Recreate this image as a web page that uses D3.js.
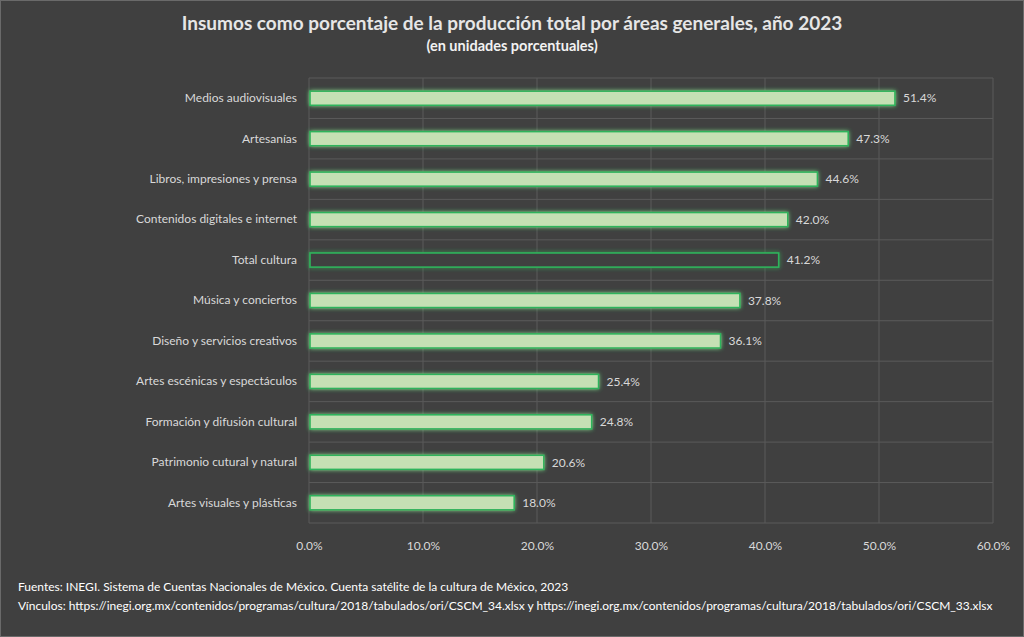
<!DOCTYPE html>
<html><head><meta charset="utf-8">
<script src="https://cdnjs.cloudflare.com/ajax/libs/d3/7.8.5/d3.min.js"></script>
<style>body{margin:0;background:#404040;}svg{display:block;}</style>
</head><body>
<script>
const categories = ["Medios audiovisuales","Artesanías","Libros, impresiones y prensa","Contenidos digitales e internet","Total cultura","Música y conciertos","Diseño y servicios creativos","Artes escénicas y espectáculos","Formación y difusión cultural","Patrimonio cutural y natural","Artes visuales y plásticas"];
const values = [51.4,47.3,44.6,42.0,41.2,37.8,36.1,25.4,24.8,20.6,18.0];
const xTicks = [0,10,20,30,40,50,60];
const title = "Insumos como porcentaje de la producción total por áreas generales, año 2023";
const subtitle = "(en unidades porcentuales)";
const footer = ["Fuentes: INEGI. Sistema de Cuentas Nacionales de México. Cuenta satélite de la cultura de México, 2023",
"Vínculos: https://inegi.org.mx/contenidos/programas/cultura/2018/tabulados/ori/CSCM_34.xlsx y https://inegi.org.mx/contenidos/programas/cultura/2018/tabulados/ori/CSCM_33.xlsx"];

const W=1024,H=637;
const font="Lato, 'Open Sans', sans-serif";
const svg=d3.select("body").append("svg").attr("width",W).attr("height",H);
svg.append("rect").attr("x",0.5).attr("y",0.5).attr("width",W-1).attr("height",H-1).attr("fill","#404040").attr("stroke","#6a6a6a");
const defs=svg.append("defs");
const f=defs.append("filter").attr("id","glow").attr("x","-10%").attr("y","-60%").attr("width","120%").attr("height","220%");
f.append("feGaussianBlur").attr("in","SourceGraphic").attr("stdDeviation",2).attr("result","b");
const m=f.append("feMerge");m.append("feMergeNode").attr("in","b");m.append("feMergeNode").attr("in","SourceGraphic");

const x=d3.scaleLinear().domain([0,60]).range([309,993]);
const y=d3.scaleBand().domain(categories).range([78,523]).paddingInner(0.65).paddingOuter(0.325);

svg.append("text").attr("x",512).attr("y",30).attr("text-anchor","middle").attr("fill","#e6e6e6")
 .attr("font-family",font).attr("font-weight","bold").attr("font-size",19).text(title);
svg.append("text").attr("x",512).attr("y",51).attr("text-anchor","middle").attr("fill","#f2f2f2")
 .attr("font-family",font).attr("font-weight","bold").attr("font-size",14.5).text(subtitle);

const g=svg.append("g");
g.selectAll(".vg").data(xTicks).enter().append("line").attr("x1",d=>x(d)).attr("x2",d=>x(d))
 .attr("y1",78).attr("y2",523).attr("stroke","#5a5a5a").attr("stroke-width",1);
const step=y.step();
const bounds=d3.range(categories.length+1).map(i=>78+i*step);
g.selectAll(".hg").data(bounds).enter().append("line").attr("x1",309).attr("x2",993)
 .attr("y1",d=>d).attr("y2",d=>d).attr("stroke","#5a5a5a").attr("stroke-width",1);

const xa=svg.append("g").attr("transform","translate(0,523)").call(d3.axisBottom(x).tickValues(xTicks).tickSize(0).tickPadding(18).tickFormat(d=>d.toFixed(1)+"%"));
xa.select(".domain").remove();
xa.selectAll("text").attr("fill","#d9d9d9").attr("font-family",font).attr("font-size",12);
const ya=svg.append("g").attr("transform","translate(309,0)").call(d3.axisLeft(y).tickSize(0).tickPadding(12));
ya.select(".domain").remove();
ya.selectAll("text").attr("fill","#d9d9d9").attr("font-family",font).attr("font-size",12);

const data=categories.map((c,i)=>({c,v:values[i]}));
svg.selectAll(".bar").data(data).enter().append("rect")
 .attr("x",x(0)+1).attr("y",d=>y(d.c)).attr("width",d=>x(d.v)-x(0)-1).attr("height",y.bandwidth())
 .attr("fill",d=>d.c==="Total cultura"?"#404040":"#c5e0b4")
 .attr("stroke","#2fb35b").attr("stroke-width",1.6).attr("filter","url(#glow)");
svg.selectAll(".val").data(data).enter().append("text")
 .attr("x",d=>x(d.v)+8).attr("y",d=>y(d.c)+y.bandwidth()/2).attr("dy","0.35em")
 .attr("fill","#d9d9d9").attr("font-family",font).attr("font-size",12).text(d=>d.v.toFixed(1)+"%");

svg.selectAll(".ft").data(footer).enter().append("text").attr("x",18).attr("y",(d,i)=>591+i*19)
 .attr("fill","#ffffff").attr("font-family",font).attr("font-size",12).text(d=>d);
</script>
</body></html>
